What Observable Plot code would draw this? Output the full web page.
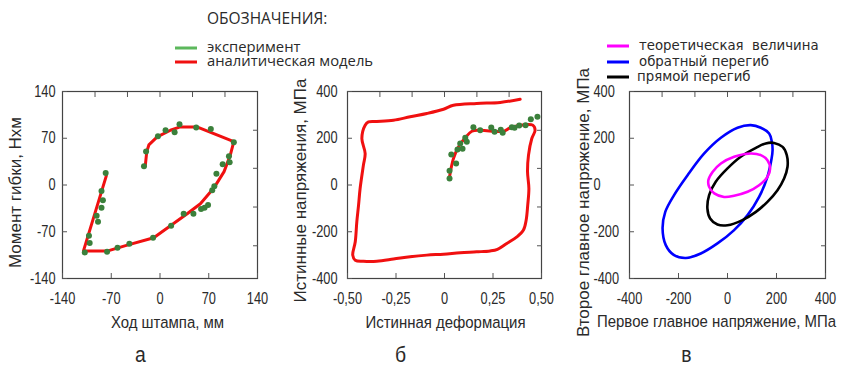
<!DOCTYPE html>
<html>
<head>
<meta charset="utf-8">
<script src="https://cdn.jsdelivr.net/npm/d3@7"></script>
<script src="https://cdn.jsdelivr.net/npm/@observablehq/plot@0.6"></script>
<style>
  body { margin: 0; background: #fff; }
  #fig { position: relative; width: 841px; height: 366px; overflow: hidden; }
  #fig svg { position: absolute; top: 0; }
  .lg { position: absolute; white-space: pre; color: #2a2a2a; transform: translateY(-50%); line-height: 0.9; }
  .sw { position: absolute; height: 3px; width: 22px; transform: translateY(-50%); }
</style>
</head>
<body>
<div id="fig"></div>
<script>
// ---- panel а: bending moment vs punch stroke ----
const strokeModel = [
  [-21, 30], [-19, 50], [-16, 60], [-4, 72], [15, 82], [29, 87], [53, 87], [106, 65],
  [101, 45], [92, 20], [77, -5], [58, -28], [39, -43], [15, -61], [-9, -79], [-47, -90],
  [-76, -99], [-110, -99], [-77, 14]
];
const strokeTest = [
  [-23, 28], [-20, 50], [-3, 73], [8, 82], [21, 79], [28, 91], [52, 86], [73, 84],
  [106, 64], [99, 43], [100, 34], [90, 31], [81, 17], [78, -2], [75, -8], [69, -30],
  [64, -34], [59, -36], [48, -43], [34, -43], [16, -61], [-10, -79], [-44, -88], [-61, -94],
  [-76, -100], [-108, -101], [-101, -87], [-102, -76], [-89, -55], [-91, -46], [-84, -34],
  [-82, -23], [-84, -9], [-78, 18]
];
const momentTicks = [-140, -70, 0, 70, 140];
const strokeTicks = [-140, -70, 0, 70, 140];
const topTicksA = [-93.3, -46.7, 0, 46.7, 93.3];
const rightTicksA = [82, 25, -33, -91];

// ---- panel б: true stress vs true strain ----
const strainModel = [
  [0.026, 35], [0.046, 113], [0.072, 163], [0.107, 202], [0.141, 230], [0.184, 234],
  [0.304, 230], [0.339, 245], [0.424, 259], [0.455, 256], [0.467, 234], [0.45, 199],
  [0.433, 128], [0.428, 56], [0.435, -15], [0.429, -86], [0.421, -150], [0.407, -193],
  [0.373, -222], [0.321, -250], [0.273, -275], [0.235, -282], [0.166, -286], [0.081, -290],
  [-0.005, -296], [-0.091, -300], [-0.177, -307], [-0.263, -317], [-0.349, -326],
  [-0.418, -326], [-0.46, -322], [-0.473, -300], [-0.46, -243], [-0.452, -158],
  [-0.443, -86], [-0.435, -15], [-0.418, 85], [-0.409, 135], [-0.426, 199], [-0.409, 256],
  [-0.392, 270], [-0.349, 272], [-0.263, 277], [-0.177, 292], [-0.091, 306], [-0.005, 324],
  [0.046, 341], [0.166, 349], [0.287, 353], [0.39, 367]
];
const strainTest = [
  [0.026, 28], [0.026, 61], [0.06, 92], [0.035, 130], [0.067, 152], [0.081, 178],
  [0.093, 155], [0.107, 202], [0.115, 185], [0.149, 247], [0.184, 234], [0.241, 246],
  [0.258, 228], [0.29, 236], [0.3, 223], [0.347, 247], [0.361, 245], [0.385, 255],
  [0.418, 256], [0.445, 281], [0.479, 292]
];
const strainTicks = [-0.5, -0.25, 0, 0.25, 0.5];
const stressTicks = [-400, -200, 0, 200, 400];
const topTicksB = [-0.333, -0.167, 0, 0.167, 0.333];
const rightTicksB = [234, 71, -94, -260];

// ---- panel в: principal stresses ----
const theoretical = [
  [95, 135], [136, 128], [163, 106], [174, 71], [163, 35], [129, -1], [82, -29], [27, -46],
  [-14, -51], [-54, -36], [-75, -8], [-78, 21], [-61, 56], [-27, 92], [27, 121]
];
const reverseBend = [
  [95, 256], [41, 245], [-27, 202], [-95, 135], [-163, 42], [-218, -43], [-254, -115],
  [-265, -186], [-252, -257], [-218, -300], [-170, -312], [-109, -293], [-41, -250],
  [27, -193], [82, -129], [129, -51], [163, 35], [180, 113], [184, 150], [181, 185],
  [170, 220], [136, 245]
];
const forwardBend = [
  [190, 180], [225, 163], [242, 128], [245, 78], [231, 28], [204, -22], [163, -72],
  [116, -115], [61, -150], [0, -172], [-41, -169], [-71, -143], [-82, -101], [-75, -43],
  [-48, 14], [0, 71], [54, 121], [116, 159], [156, 178]
];
const principalTicks = [-400, -200, 0, 200, 400];
const topTicksC = [-267, -133, 0, 133, 267];
const rightTicksC = [234, 71, -94, -260];

const FONT = '"Liberation Sans", Arial, sans-serif';
const fmtInt = d => String(d).replace("−", "-");
const fmtDec = d => d === 0 ? "0" : d.toFixed(2).replace(".", ",");

const FRAME_TOP = 91, FRAME_BOTTOM = 278;
const fig = document.getElementById("fig");

// narrow the horizontal labels (tall, condensed lettering); vertical titles stay as set
function condense(svg) {
  svg.querySelectorAll("text").forEach(t => {
    const tr = t.getAttribute("transform") || "";
    if (tr.includes("rotate")) return;
    const fsNode = t.closest("[font-size]");
    const fs = fsNode ? parseFloat(fsNode.getAttribute("font-size")) : 16;
    const s = fs >= 17 ? 0.88 : 0.8;
    let pre = "";
    const xa = t.getAttribute("x");
    if (xa !== null && xa !== "" && !isNaN(+xa) && +xa !== 0) {
      pre = ` translate(${+xa},0)`;
      t.removeAttribute("x");
    }
    t.setAttribute("transform", `${tr}${pre} scale(${s},1)`.trim());
  });
}

function panel(o) {
  const ml = o.frameLeft - o.left;
  const mr = o.width - (o.frameRight - o.left);
  // anchor a text mark at a page position
  const at = (ax, ay) => ({frameAnchor: "top-left", dx: ax - o.frameLeft, dy: ay - FRAME_TOP,
    textAnchor: "middle", lineAnchor: "middle"});
  const svg = Plot.plot({
    width: o.width, height: 366,
    marginLeft: ml, marginRight: mr, marginTop: FRAME_TOP, marginBottom: 366 - FRAME_BOTTOM,
    x: {domain: o.xDomain, label: null},
    y: {domain: o.yDomain, label: null},
    style: {fontFamily: FONT, fontSize: "16px", color: "#2a2a2a", background: "transparent", overflow: "visible"},
    marks: [
      ...o.marks,
      Plot.frame({stroke: "#444", strokeWidth: 1.2}),
      Plot.axisX(o.xTicks, {anchor: "bottom", tickSize: -5, tickPadding: 19, tickFormat: o.xFmt, stroke: "#555", label: null}),
      Plot.axisX(o.topTicks, {anchor: "top", tickSize: -5, tickFormat: () => "", stroke: "#555", label: null}),
      Plot.axisY(o.yTicks, {anchor: "left", tickSize: -5, tickPadding: o.yPad, tickFormat: o.yFmt, stroke: "#555", label: null,
        ...(o.yStart ? {textAnchor: "start"} : {})}),
      Plot.axisY(o.rightTicks, {anchor: "right", tickSize: -5, tickFormat: () => "", stroke: "#555", label: null}),
      Plot.text([o.xTitle], {...at(o.xTitleAt[0], o.xTitleAt[1]), text: d => d, fontSize: 17, fill: "#2a2a2a"}),
      Plot.text([o.yTitle], {...at(o.yTitleAt[0], o.yTitleAt[1]), text: d => d, rotate: -90, fontSize: 17, fill: "#2a2a2a"}),
      Plot.text([o.letter], {...at(o.letterAt[0], o.letterAt[1]), text: d => d, fontSize: 22, fill: "#2a2a2a"})
    ]
  });
  condense(svg);
  svg.style.left = o.left + "px";
  fig.appendChild(svg);
}

panel({
  left: 0, width: 280, frameLeft: 62, frameRight: 257,
  xDomain: [-140, 140], yDomain: [-140, 140],
  xTicks: strokeTicks, yTicks: momentTicks, xFmt: fmtInt, yFmt: fmtInt, yPad: 12,
  topTicks: topTicksA, rightTicks: rightTicksA,
  xTitle: "Ход штампа, мм", xTitleAt: [167, 322],
  yTitle: "Момент гибки, Нхм", yTitleAt: [15, 192],
  letter: "а", letterAt: [140, 354],
  marks: [
    Plot.line(strokeModel, {x: d => d[0], y: d => d[1], stroke: "#f01010", strokeWidth: 3, strokeLinejoin: "round"}),
    Plot.dot(strokeTest, {x: d => d[0], y: d => d[1], r: 3, fill: "#3b803b", stroke: "none"})
  ]
});

panel({
  left: 280, width: 290, frameLeft: 347, frameRight: 541,
  xDomain: [-0.5, 0.5], yDomain: [-400, 400],
  xTicks: strainTicks, yTicks: stressTicks, xFmt: fmtDec, yFmt: fmtInt, yPad: 15,
  topTicks: topTicksB, rightTicks: rightTicksB,
  xTitle: "Истинная деформация", xTitleAt: [445, 322],
  yTitle: "Истинные напряжения, МПа", yTitleAt: [300, 190],
  letter: "б", letterAt: [400, 354],
  marks: [
    Plot.line(strainModel, {x: d => d[0], y: d => d[1], stroke: "#f01010", strokeWidth: 3, strokeLinejoin: "round", curve: "catmull-rom"}),
    Plot.dot(strainTest, {x: d => d[0], y: d => d[1], r: 3, fill: "#3b803b", stroke: "none"})
  ]
});

panel({
  left: 570, width: 271, frameLeft: 629, frameRight: 825,
  xDomain: [-400, 400], yDomain: [-400, 400],
  xTicks: principalTicks, yTicks: principalTicks, xFmt: fmtInt, yFmt: fmtInt, yPad: 41, yStart: true,
  topTicks: topTicksC, rightTicks: rightTicksC,
  xTitle: "Первое главное напряжение, МПа", xTitleAt: [716, 321],
  yTitle: "Второе главное напряжение, МПа", yTitleAt: [583, 202],
  letter: "в", letterAt: [686, 354],
  marks: [
    Plot.line(reverseBend, {x: d => d[0], y: d => d[1], stroke: "#0000ff", strokeWidth: 2.6, curve: "catmull-rom-closed"}),
    Plot.line(forwardBend, {x: d => d[0], y: d => d[1], stroke: "#000", strokeWidth: 2.6, curve: "catmull-rom-closed"}),
    Plot.line(theoretical, {x: d => d[0], y: d => d[1], stroke: "#ff00ff", strokeWidth: 2.6, curve: "catmull-rom-closed"})
  ]
});

// ---- legends ----
function swatch(x, y, color) {
  const s = document.createElement("div");
  s.className = "sw";
  s.style.left = x + "px"; s.style.top = y + "px"; s.style.background = color;
  fig.appendChild(s);
}
function label(x, y, text, font, size) {
  const t = document.createElement("div");
  t.className = "lg";
  t.style.left = x + "px"; t.style.top = y + "px";
  t.style.fontFamily = font; t.style.fontSize = size + "px";
  t.textContent = text;
  fig.appendChild(t);
}
const LEG_FONT = '"Open Sans", "DejaVu Sans", sans-serif';
label(207, 19, "ОБОЗНАЧЕНИЯ:", LEG_FONT, 15.5);
swatch(175, 48, "#5cb85c"); label(207, 47, "эксперимент", LEG_FONT, 14.8);
swatch(175, 62, "#f01010"); label(207, 61, "аналитическая модель", LEG_FONT, 14.8);

const LEG_FONT_C = '"DejaVu Sans", sans-serif';
swatch(607, 46, "#ff00ff"); label(639, 46, "теоретическая  величина", LEG_FONT_C, 13.3);
swatch(607, 62, "#0000ff"); label(639, 62, "обратный перегиб", LEG_FONT_C, 13.3);
swatch(607, 77, "#000"); label(637, 77, "прямой перегиб", LEG_FONT_C, 13.3);
</script>
</body>
</html>
